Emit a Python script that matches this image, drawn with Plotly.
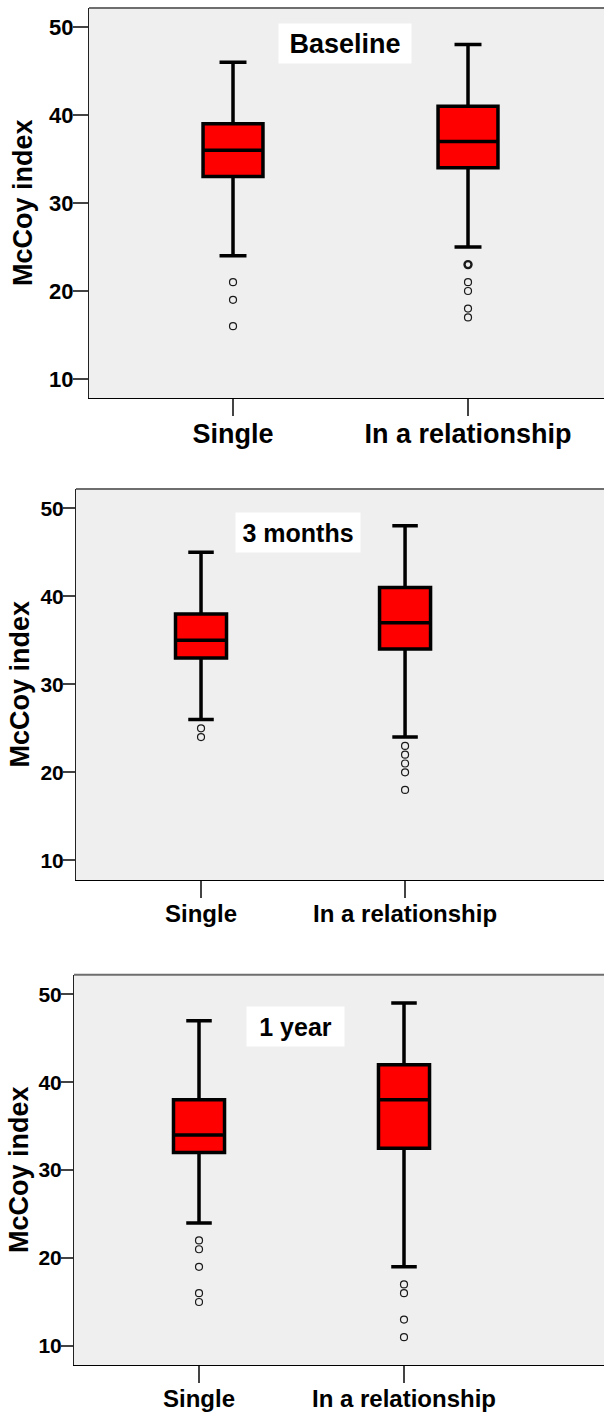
import plotly.graph_objects as go

# ---------------- data ----------------
categories = ["Single", "In a relationship"]
panel_titles = ["Baseline", "3 months", "1 year"]

q1_values = [[33, 34], [33, 34], [32, 32.5]]
median_values = [[36, 37], [35, 37], [34, 38]]
q3_values = [[39, 41], [38, 41], [38, 42]]
lower_whisker = [[24, 25], [26, 24], [24, 19]]
upper_whisker = [[46, 48], [45, 48], [47, 49]]

# outliers per panel, per category
outliers_single = [[21, 19, 16], [25, 24], [22, 21, 19, 16, 15]]
outliers_relationship = [[23, 21, 20, 18, 17], [23, 22, 21, 20, 18], [17, 16, 13, 11]]
# number of overlapping observations at each outlier value
counts_single = [[1, 1, 1], [1, 1], [1, 1, 1, 1, 1]]
counts_relationship = [[3, 1, 1, 1, 1], [1, 1, 1, 1, 1], [1, 1, 1, 1]]

y_tickvals = [10, 20, 30, 40, 50]
y_title = "McCoy index"

# ---------------- layout helpers ----------------
W, H = 604, 1417
# pixel geometry of each plot area: left, top, bottom
panel_px = [(89, 8, 398), (76, 489, 880), (74, 974.7, 1365.3)]
x_ranges = [[-0.6128, 1.5787], [-0.6127, 1.975], [-0.6098, 1.9756]]
y_ranges = [[7.84, 52.16], [7.76, 52.19], [7.80, 52.23]]
box_widths = [0.255, 0.25, 0.249]
whisker_widths = [0.45, 0.5, 0.5]
title_centers = [(345, 43.5), (298.3, 532), (295.5, 1026.3)]
title_box_w = [128, 120, 93]
ytitle_x = [23, 19, 19]
yticklen = [15, 12, 12]

regular = "Liberation Sans, Arial, sans-serif"
xtick_sizes = [27, 24, 24]
title_sizes = [27, 25, 25]
ytick_sizes = [22, 21, 21]

fig = go.Figure()
annotations = []
shapes = []

for i in range(3):
    xa = "x" if i == 0 else f"x{i+1}"
    ya = "y" if i == 0 else f"y{i+1}"
    left, top, bottom = panel_px[i]

    fig.add_trace(go.Box(
        x=categories,
        q1=q1_values[i], median=median_values[i], q3=q3_values[i],
        lowerfence=lower_whisker[i], upperfence=upper_whisker[i],
        boxpoints=False,
        width=box_widths[i],
        whiskerwidth=whisker_widths[i],
        fillcolor="#ff0000",
        line=dict(color="black", width=3.5),
        xaxis=xa, yaxis=ya, showlegend=False, hoverinfo="skip",
    ))

    for cat, vals, cnts in ((categories[0], outliers_single[i], counts_single[i]),
                            (categories[1], outliers_relationship[i], counts_relationship[i])):
        fig.add_trace(go.Scatter(
            x=[cat] * len(vals), y=vals, mode="markers",
            marker=dict(symbol="circle-open", size=7, color="#1a1a1a",
                        line=dict(width=[1.2 if c == 1 else 2.4 for c in cnts], color="#1a1a1a")),
            xaxis=xa, yaxis=ya, showlegend=False, hoverinfo="skip",
        ))

    xdom = [left / W, 1.0]
    ydom = [1 - bottom / H, 1 - top / H]
    suffix = "" if i == 0 else str(i + 1)
    fig.update_layout(**{
        f"xaxis{suffix}": dict(
            domain=xdom, anchor=ya, type="category", categoryorder="array",
            categoryarray=categories, range=x_ranges[i], automargin=False,
            showgrid=False, zeroline=False, showline=True, linecolor="black", linewidth=1,
            ticks="outside", ticklen=17, tickwidth=1.5, tickcolor="#444444",
            ticklabelstandoff=-5,
            tickfont=dict(family=regular, size=xtick_sizes[i], color="black", weight="bold"),
            fixedrange=True,
        ),
        f"yaxis{suffix}": dict(
            domain=ydom, anchor=xa, range=y_ranges[i], tickvals=y_tickvals, automargin=False,
            showgrid=False, zeroline=False, showline=True, linecolor="#222222", linewidth=1,
            ticks="outside", ticklen=yticklen[i], tickwidth=1.5, tickcolor="#444444",
            ticklabelstandoff=-5,
            tickfont=dict(family=regular, size=ytick_sizes[i], color="black", weight="bold"),
            fixedrange=True,
        ),
    })

    # grey top border
    shapes.append(dict(type="line", xref=f"{xa} domain", yref=f"{ya} domain",
                       x0=0, x1=1, y0=1, y1=1, line=dict(color="#6e6e6e", width=2)))

    # panel title in white box
    cx, cy = title_centers[i]
    annotations.append(dict(
        text=panel_titles[i], xref="paper", yref="paper",
        x=cx / W, y=1 - cy / H, xanchor="center", yanchor="middle",
        showarrow=False, bgcolor="white", borderpad=2,
        width=title_box_w[i], height=35,
        font=dict(family=regular, size=title_sizes[i], color="black", weight="bold"),
    ))

    # y-axis title
    annotations.append(dict(
        text=y_title, xref="paper", yref="paper",
        x=ytitle_x[i] / W, y=1 - ((top + bottom) / 2) / H,
        xanchor="center", yanchor="middle", textangle=-90, showarrow=False,
        font=dict(family=regular, size=27, color="black", weight="bold"),
    ))

fig.update_layout(
    width=W, height=H,
    margin=dict(l=0, r=0, t=0, b=0, autoexpand=False),
    paper_bgcolor="white", plot_bgcolor="#efefef",
    annotations=annotations, shapes=shapes,
    showlegend=False,
)

fig.write_html(
    "out.html",
    config={"displayModeBar": False},
    post_script="document.body.style.margin='0';document.body.style.overflow='hidden';",
)
